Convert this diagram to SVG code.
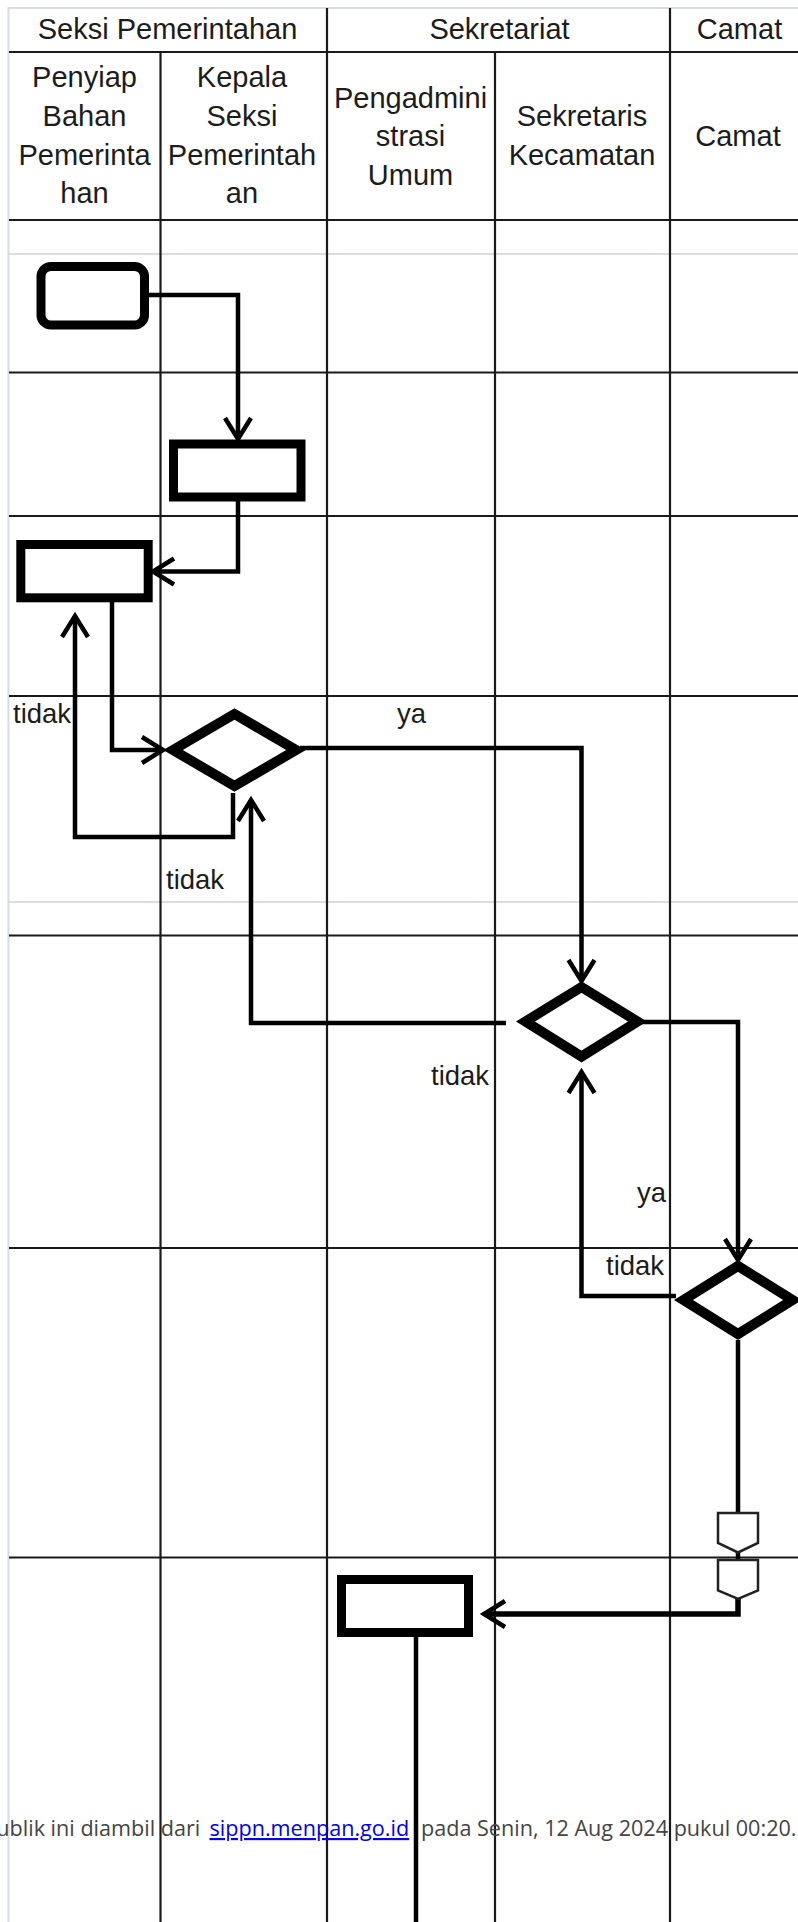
<svg xmlns="http://www.w3.org/2000/svg" width="798" height="1922" viewBox="0 0 798 1922">
<style>
text{font-family:"Liberation Sans",Arial,sans-serif;font-size:29px;fill:#1c1c1c}
.c{text-anchor:middle}
.l{font-size:27.5px}
.grid line{stroke:#1a1a1a;stroke-width:2.2}
.pale line{stroke:#d6dde6;stroke-width:2}
.shape{fill:#fff;stroke:#000;stroke-width:9}
.dia{stroke-width:10}
.conn path{fill:none;stroke:#000;stroke-width:4.500}
.conn .a{marker-end:url(#arrow)}
.off{fill:#fff;stroke:#222;stroke-width:2.500}
.foot{font-family:"Open Sans",sans-serif;font-size:21.600px;fill:#444}
.link{fill:#0000ee;text-decoration:underline}
</style>
<defs>
<marker id="arrow" markerUnits="userSpaceOnUse" markerWidth="30" markerHeight="30" refX="22" refY="15" orient="auto" overflow="visible">
<path d="M1,2 L22,15 L1,28" fill="none" stroke="#000" stroke-width="4.500"/>
</marker>
</defs>
<rect width="798" height="1922" fill="#fff"/>
<g class="pale">
<line x1="8.500" y1="7" x2="8.500" y2="1922"/>
<line x1="8" y1="8" x2="798" y2="8"/>
<line x1="8" y1="254" x2="798" y2="254"/>
<line x1="8" y1="902" x2="798" y2="902"/>
</g>
<g class="grid">
<line x1="160.500" y1="52" x2="160.500" y2="1922"/>
<line x1="327" y1="8" x2="327" y2="1922"/>
<line x1="495" y1="52" x2="495" y2="1922"/>
<line x1="670" y1="8" x2="670" y2="1922"/>
<line x1="9" y1="52" x2="798" y2="52"/>
<line x1="9" y1="220" x2="798" y2="220"/>
<line x1="9" y1="372.500" x2="798" y2="372.500"/>
<line x1="9" y1="516" x2="798" y2="516"/>
<line x1="9" y1="696" x2="798" y2="696"/>
<line x1="9" y1="935.500" x2="798" y2="935.500"/>
<line x1="9" y1="1248" x2="798" y2="1248"/>
<line x1="9" y1="1557.500" x2="798" y2="1557.500"/>
</g>
<g id="headers">
<text class="c" x="167.500" y="39">Seksi Pemerintahan</text>
<text class="c" x="499.500" y="39">Sekretariat</text>
<text class="c" x="739.500" y="39">Camat</text>
<text class="c" x="84.500" y="87">Penyiap</text>
<text class="c" x="84.500" y="126">Bahan</text>
<text class="c" x="84.500" y="165">Pemerinta</text>
<text class="c" x="84.500" y="203">han</text>
<text class="c" x="242" y="87">Kepala</text>
<text class="c" x="242" y="126">Seksi</text>
<text class="c" x="242" y="165">Pemerintah</text>
<text class="c" x="242" y="203">an</text>
<text class="c" x="410.500" y="108">Pengadmini</text>
<text class="c" x="410.500" y="146">strasi</text>
<text class="c" x="410.500" y="185">Umum</text>
<text class="c" x="582" y="126">Sekretaris</text>
<text class="c" x="582" y="165">Kecamatan</text>
<text class="c" x="738" y="146">Camat</text>
</g>
<g id="connectors" class="conn">
<path class="a" d="M148,295 H238 V439"/>
<path class="a" d="M238,501 V571.500 H153"/>
<path class="a" d="M112,602 V750 H163"/>
<path class="a" d="M300,748 H581.500 V981"/>
<path class="a" d="M233,793 V837 H75 V616"/>
<path class="a" d="M506,1023 H251 V800"/>
<path class="a" d="M640,1022 H738 V1260"/>
<path class="a" d="M676,1296 H581.500 V1072"/>
<path d="M738,1340 V1512"/>
<path d="M738,1552 V1560"/>
<path class="a" style="stroke-width:5.500" d="M738,1599 V1614 H484"/>
<path d="M416,1637 V1922"/>
</g>
<g id="start"><rect class="shape" x="41" y="266.500" width="103.500" height="58.500" rx="10"/></g>
<g id="task1"><rect class="shape" x="173.500" y="444" width="127.500" height="53"/></g>
<g id="task2"><rect class="shape" x="20.800" y="544.500" width="127.400" height="53.300"/></g>
<g id="decision1"><path class="shape dia" d="M173,750 L234.500,714 L296,750 L234.500,786 Z"/></g>
<g id="decision2"><path class="shape dia" d="M525.500,1021.500 L581.500,987 L637.500,1021.500 L581.500,1056.500 Z"/></g>
<g id="decision3"><path class="shape dia" d="M683.500,1300 L738,1266 L792.500,1300 L738,1334 Z"/></g>
<g id="offpage1"><path class="off" d="M718,1513 H758 V1543 L738,1552.500 L718,1543 Z"/></g>
<g id="offpage2"><path class="off" d="M718,1560 H758 V1590.500 L738,1599 L718,1590.500 Z"/></g>
<g id="task3"><rect class="shape" x="341.500" y="1579.500" width="127" height="53"/></g>
<g id="labels">
<text class="l" x="13" y="722.500">tidak</text>
<text class="l" x="397" y="722.500">ya</text>
<text class="l" x="166" y="889">tidak</text>
<text class="l" x="431" y="1085">tidak</text>
<text class="l" x="637" y="1201.500">ya</text>
<text class="l" x="606" y="1275">tidak</text>
</g>
<g id="footer">
<text class="foot" x="-3.700" y="1836">ublik ini diambil dari</text>
<text class="foot link" x="209.500" y="1836">sippn.menpan.go.id</text>
<text class="foot" x="421" y="1836">pada Senin, 12 Aug 2024 pukul 00:20.</text>
</g>
</svg>
